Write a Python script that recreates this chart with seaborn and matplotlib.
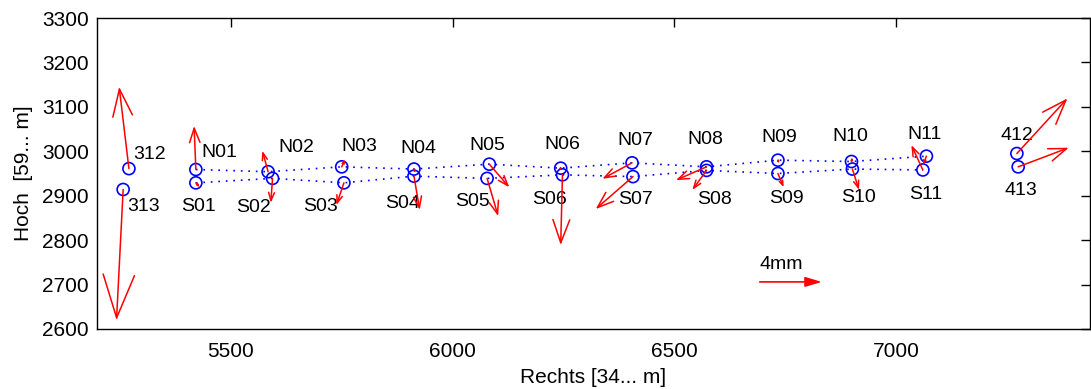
import numpy as np
import pandas as pd
import matplotlib
matplotlib.use('Agg')
import matplotlib.pyplot as plt
import seaborn as sns

# Punkte der Nordreihe
n_names = ['N01', 'N02', 'N03', 'N04', 'N05', 'N06', 'N07', 'N08', 'N09', 'N10', 'N11']
n_x = [5421, 5584, 5750, 5913, 6083, 6244, 6405, 6573, 6734, 6900, 7069]
n_y = [2959, 2954, 2965, 2960, 2971, 2962, 2974, 2965, 2980, 2977, 2989]
n_dx = [-4, -13, 8, 3, 45, -5, -67, -69, 3, 2, -8]
n_dy = [98, 47, 17, -10, -52, -5, -36, -30, -8, 10, -20]

# Punkte der Suedreihe
s_names = ['S01', 'S02', 'S03', 'S04', 'S05', 'S06', 'S07', 'S08', 'S09', 'S10', 'S11']
s_x = [5421, 5594, 5755, 5913, 6078, 6248, 6407, 6573, 6734, 6902, 7061]
s_y = [2929, 2939, 2929, 2944, 2939, 2947, 2943, 2957, 2950, 2960, 2958]
s_dx = [9, -4, -17, 13, 25, -4, -84, -32, 13, 15, -26]
s_dy = [-10, -55, -50, -76, -85, -158, -73, -44, -31, -47, 56]

# Einzelpunkte
p_names = ['312', '313', '412', '413']
p_x = [5270, 5257, 7273, 7276]
p_y = [2961, 2914, 2995, 2965]
p_dx = [-22, -15, 114, 114]
p_dy = [184, -294, 124, 43]

# Massstabspfeil
scale_label = '4mm'
scale_x, scale_y, scale_len = 6693, 2706, 140

y_ticks = [2600, 2700, 2800, 2900, 3000, 3100, 3200, 3300]
x_ticks = [5500, 6000, 6500, 7000]

# Beschriftungs-Offsets in Pixel (dx, dy)
n_off = [(23, 17), (28, 24), (18, 20), (4, 21), (-2, 19), (2, 24), (3, 22), (-1, 27), (1, 23), (-1, 25), (-2, 22)]
s_off = [(3, -24), (-19, -29), (-23, -24), (-11, -27), (-15, -23), (-13, -25), (3, -23), (8, -29), (9, -25), (6, -28), (3, -25)]
p_off = [(21, 14), (20, -17), (0, 18), (3, -24)]

sns.set_style('white')
plt.rcParams['font.family'] = ['Liberation Sans', 'DejaVu Sans']
plt.rcParams['text.color'] = 'black'

fig = plt.figure(figsize=(10.91, 3.89), dpi=100)
ax = fig.add_axes([97 / 1091, 1 - 329 / 389, 993 / 1091, 311 / 389])
ax.set_xlim(5198, 7438)
ax.set_ylim(2600, 3300)

px_per_unit = 993 / (7438 - 5198)

dots = (0, (1, 3.5))
sns.lineplot(x=n_x, y=n_y, sort=False, estimator=None, color='blue', linestyle=dots, lw=1.2, ax=ax)
sns.lineplot(x=s_x, y=s_y, sort=False, estimator=None, color='blue', linestyle=dots, lw=1.2, ax=ax)

all_x = n_x + s_x + p_x
all_y = n_y + s_y + p_y
sns.scatterplot(x=all_x, y=all_y, marker='o', s=75, facecolor='none', edgecolor='blue', linewidth=1.2, ax=ax, zorder=3)


def arrow(x, y, dx, dy):
    L = np.hypot(dx, dy) * px_per_unit * 0.72
    style = f'->,head_length={0.33 * L:.2f},head_width={0.12 * L:.2f}'
    ax.annotate('', xy=(x + dx, y + dy), xytext=(x, y),
                arrowprops=dict(arrowstyle=style, mutation_scale=1, color='red', lw=1.1,
                                shrinkA=0, shrinkB=0), zorder=4)


for x, y, dx, dy in zip(n_x, n_y, n_dx, n_dy):
    arrow(x, y, dx, dy)
for x, y, dx, dy in zip(s_x, s_y, s_dx, s_dy):
    arrow(x, y, dx, dy)
for x, y, dx, dy in zip(p_x, p_y, p_dx, p_dy):
    arrow(x, y, dx, dy)

# Massstab: gefuellte Pfeilspitze
ax.annotate('', xy=(scale_x + scale_len, scale_y), xytext=(scale_x, scale_y),
            arrowprops=dict(arrowstyle='-|>,head_length=10,head_width=3', mutation_scale=1,
                            color='red', lw=1.2, shrinkA=0, shrinkB=0))
ax.annotate(scale_label, xy=(scale_x, scale_y), xytext=(0, 12.5), textcoords='offset points',
            ha='left', va='center', fontsize=14)


def label(names, xs, ys, offs):
    for t, x, y, (ox, oy) in zip(names, xs, ys, offs):
        ax.annotate(t, xy=(x, y), xytext=(ox * 0.72, oy * 0.72), textcoords='offset points',
                    ha='center', va='center', fontsize=14, color='black')


label(n_names, n_x, n_y, n_off)
label(s_names, s_x, s_y, s_off)
label(p_names, p_x, p_y, p_off)

ax.set_xticks(x_ticks)
ax.set_yticks(y_ticks)
ax.tick_params(direction='in', length=6.5, width=1, top=True, right=True, labelsize=15, pad=6,
               colors='black', labelcolor='black')
ax.tick_params(axis='x', pad=9.5)
for sp in ax.spines.values():
    sp.set_color('black')
    sp.set_linewidth(1)
ax.set_xlabel('Rechts [34... m]', fontsize=15, labelpad=5, color='black')
ax.set_ylabel('Hoch  [59... m]', fontsize=15, labelpad=6, color='black')

fig.savefig('out.png', dpi=100)
